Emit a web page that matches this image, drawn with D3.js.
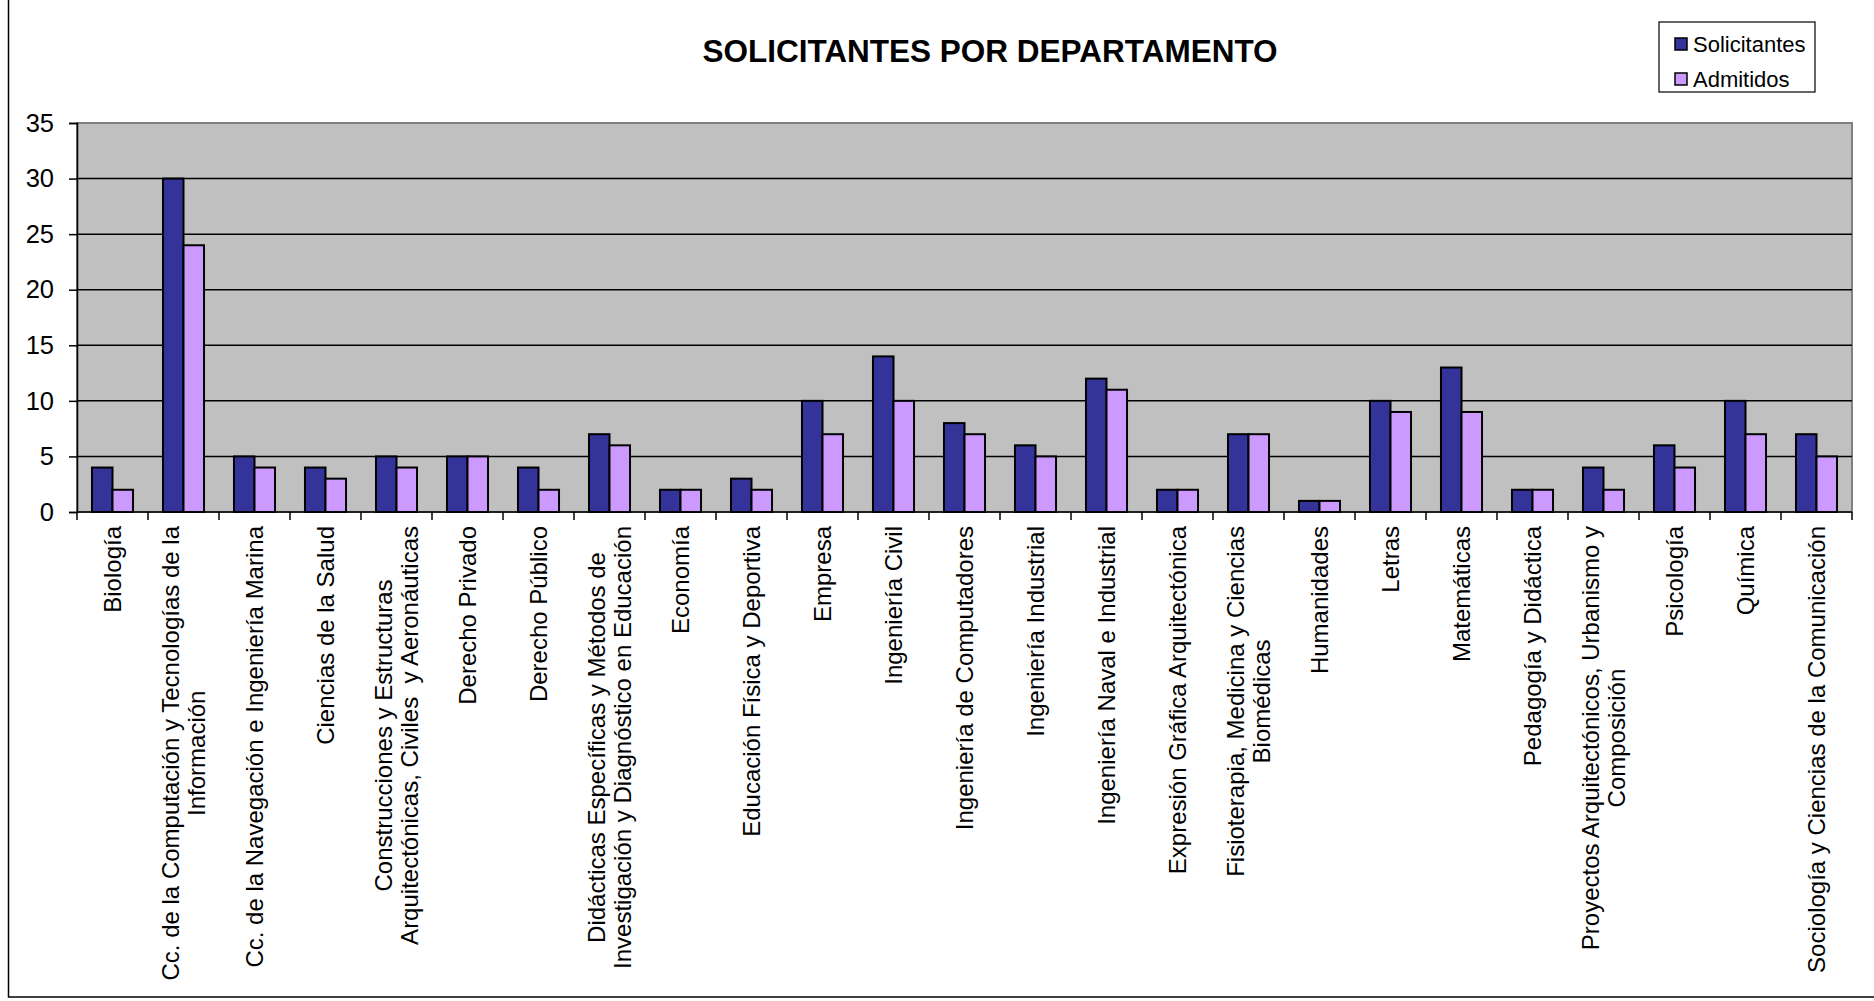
<!DOCTYPE html>
<html>
<head>
<meta charset="utf-8">
<script src="https://cdn.jsdelivr.net/npm/d3@7"></script>
<style>
  body { margin: 0; background: #fff; }
  svg { display: block; font-family: Arial, "Liberation Sans", sans-serif; }
</style>
</head>
<body>
<div id="chart"></div>
<script>
// categories (line breaks as in the original labels)
var departamentos = [
    "Biología",
    "Cc. de la Computación y Tecnologías de la\nInformación",
    "Cc. de la Navegación e Ingeniería Marina",
    "Ciencias de la Salud",
    "Construcciones y Estructuras\nArquitectónicas, Civiles  y Aeronáuticas",
    "Derecho Privado",
    "Derecho Público",
    "Didácticas Específicas y Métodos de\nInvestigación y Diagnóstico en Educación",
    "Economía",
    "Educación Física y Deportiva",
    "Empresa",
    "Ingeniería Civil",
    "Ingeniería de Computadores",
    "Ingeniería Industrial",
    "Ingeniería Naval e Industrial",
    "Expresión Gráfica Arquitectónica",
    "Fisioterapia, Medicina y Ciencias\nBiomédicas",
    "Humanidades",
    "Letras",
    "Matemáticas",
    "Pedagogía y Didáctica",
    "Proyectos Arquitectónicos, Urbanismo y\nComposición",
    "Psicología",
    "Química",
    "Sociología y Ciencias de la Comunicación"
];
var solicitantes = [4, 30, 5, 4, 5, 5, 4, 7, 2, 3, 10, 14, 8, 6, 12, 2, 7, 1, 10, 13, 2, 4, 6, 10, 7];
var admitidos    = [2, 24, 4, 3, 4, 5, 2, 6, 2, 2, 7, 10, 7, 5, 11, 2, 7, 1, 9, 9, 2, 2, 4, 7, 5];
var series = ["Solicitantes", "Admitidos"];
var colores = ["#333399", "#CC99FF"];
var yTicks = [0, 5, 10, 15, 20, 25, 30, 35];

var W = 1874, H = 1001;
var plot = {left: 77, right: 1852, top: 123, bottom: 512};

var svg = d3.select("#chart").append("svg")
    .attr("width", W)
    .attr("height", H);

// outer chart frame
svg.append("rect")
    .attr("x", 8.5).attr("y", -5)
    .attr("width", W + 10).attr("height", 997 + 5)
    .attr("fill", "#fff")
    .attr("stroke", "#000")
    .attr("stroke-width", 1.5);

// title
svg.append("text")
    .attr("x", 990)
    .attr("y", 62)
    .attr("text-anchor", "middle")
    .style("font-size", "31.5px")
    .style("font-weight", "bold")
    .text("SOLICITANTES POR DEPARTAMENTO");

var data = departamentos.map(function(d, i) {
    return {dep: d, values: [solicitantes[i], admitidos[i]]};
});

var x0 = d3.scaleBand()
    .domain(d3.range(departamentos.length))
    .range([plot.left, plot.right])
    .paddingInner(0).paddingOuter(0);

var x1 = d3.scaleBand()
    .domain([0, 1])
    .range([0, x0.bandwidth()])
    .paddingInner(0).paddingOuter(0.73);

var y = d3.scaleLinear()
    .domain([0, 35])
    .range([plot.bottom, plot.top]);

// plot background
svg.append("rect")
    .attr("x", plot.left).attr("y", plot.top)
    .attr("width", plot.right - plot.left)
    .attr("height", plot.bottom - plot.top)
    .attr("fill", "#C0C0C0")
    .attr("stroke", "#808080")
    .attr("stroke-width", 2);

// gridlines
svg.append("g")
    .selectAll("line")
    .data(yTicks.filter(function(t) { return t > 0 && t < 35; }))
    .enter().append("line")
    .attr("x1", plot.left).attr("x2", plot.right)
    .attr("y1", function(d) { return y(d); })
    .attr("y2", function(d) { return y(d); })
    .attr("stroke", "#000")
    .attr("stroke-width", 1.5);

// bars
var groups = svg.append("g")
    .selectAll("g")
    .data(data)
    .enter().append("g")
    .attr("transform", function(d, i) { return "translate(" + x0(i) + ",0)"; });

groups.selectAll("rect")
    .data(function(d) { return d.values; })
    .enter().append("rect")
    .attr("x", function(d, j) { return x1(j); })
    .attr("y", function(d) { return y(d); })
    .attr("width", x1.bandwidth())
    .attr("height", function(d) { return y(0) - y(d); })
    .attr("fill", function(d, j) { return colores[j]; })
    .attr("stroke", "#000")
    .attr("stroke-width", 2);

// y axis
var yAxis = svg.append("g")
    .attr("transform", "translate(" + plot.left + ",0)")
    .call(d3.axisLeft(y).tickValues(yTicks).tickSize(8).tickPadding(15));
yAxis.select(".domain").attr("stroke", "#000").attr("stroke-width", 1.5);
yAxis.selectAll(".tick line").attr("stroke", "#000").attr("stroke-width", 1.5);
yAxis.selectAll(".tick text")
    .style("font-size", "25.5px")
    .style("font-family", "Arial, 'Liberation Sans', sans-serif")
    .attr("fill", "#000");

// x axis line and ticks at category boundaries
svg.append("line")
    .attr("x1", plot.left).attr("x2", plot.right)
    .attr("y1", plot.bottom).attr("y2", plot.bottom)
    .attr("stroke", "#000").attr("stroke-width", 1.5);

svg.append("g")
    .selectAll("line")
    .data(d3.range(departamentos.length + 1))
    .enter().append("line")
    .attr("x1", function(i) { return plot.left + i * x0.step(); })
    .attr("x2", function(i) { return plot.left + i * x0.step(); })
    .attr("y1", plot.bottom).attr("y2", plot.bottom + 8)
    .attr("stroke", "#000").attr("stroke-width", 1.5);

// category labels, rotated, top aligned, lines centred
var lineH = 26;
var labels = svg.append("g")
    .selectAll("g")
    .data(departamentos)
    .enter().append("g")
    .attr("transform", function(d, i) {
        return "translate(" + (x0(i) + x0.bandwidth() / 2) + "," + (plot.bottom + 14) + ") rotate(-90)";
    });

labels.each(function(d) {
    var g = d3.select(this);
    var lines = d.split("\n");
    var texts = lines.map(function(l, k) {
        return g.append("text")
            .attr("y", (k - (lines.length - 1) / 2) * lineH)
            .attr("dy", "0.35em")
            .attr("text-anchor", "middle")
            .style("font-size", "24px")
            .style("white-space", "pre")
            .text(l);
    });
    var maxLen = d3.max(texts, function(t) { return t.node().getComputedTextLength(); });
    texts.forEach(function(t) { t.attr("x", -maxLen / 2); });
});

// legend
var legend = svg.append("g").attr("transform", "translate(1659,22)");
legend.append("rect")
    .attr("width", 156).attr("height", 70)
    .attr("fill", "#fff")
    .attr("stroke", "#000")
    .attr("stroke-width", 1.2);

series.forEach(function(s, j) {
    var row = legend.append("g").attr("transform", "translate(16," + (16 + j * 35) + ")");
    row.append("rect")
        .attr("width", 12).attr("height", 12)
        .attr("fill", colores[j])
        .attr("stroke", "#000")
        .attr("stroke-width", 1.5);
    row.append("text")
        .attr("x", 18).attr("y", 6)
        .attr("dy", "0.35em")
        .style("font-size", "22px")
        .text(s);
});
</script>
</body>
</html>
